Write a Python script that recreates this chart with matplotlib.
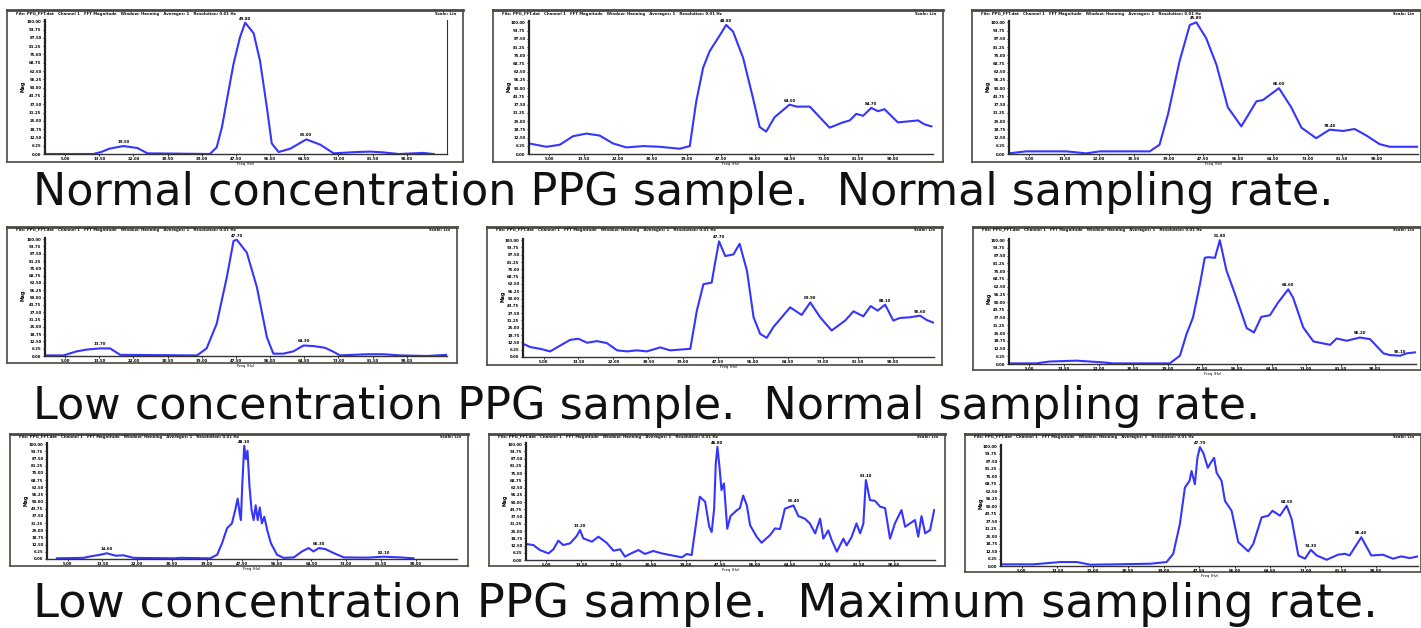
#Nine PPG spectrum panels with captions
import matplotlib.pyplot as plt
from matplotlib.ticker import MultipleLocator, FormatStrFormatter

#Dados: x em % da faixa de frequencia, y em % da magnitude maxima
x1 = [0, 12, 14, 16, 19.5, 23, 25.5, 41, 42.7, 44, 45.2, 46.9, 48.5, 49.8, 51.9, 53.5, 55.2, 56.4, 58.1, 61, 65, 68.5, 71.8, 77.6, 81, 84.2, 88, 94, 96.7]
y1 = [0, 0, 1.5, 4, 6, 4.5, 0.5, 0, 5, 20, 40, 68, 88, 99, 91, 70, 35, 8, 1.5, 4, 11, 7, 0.5, 1.5, 1.8, 1.2, 0, 0.8, 0]

x2 = [0, 4.3, 7.6, 10.9, 14.2, 17.5, 20.8, 24.1, 28.2, 32.3, 37.3, 39.8, 41.4, 43.1, 44.7, 47.2, 48.8, 50.5, 53, 55.4, 57.1, 58.7, 60.8, 64.5, 66.2, 69.5, 74.4, 77.7, 79.4, 81, 82.7, 84.7, 86.4, 88, 91.3, 96.3, 97.9, 99.6]
y2 = [8, 5.5, 7, 13.5, 15.5, 14, 8, 5, 6, 5.5, 4, 6, 40, 65.5, 78, 90, 98, 93, 73, 43, 20.5, 17, 28, 37.5, 36, 36, 20, 24, 25.5, 30.5, 29, 35, 32.5, 34, 24, 25.5, 22.5, 21]

x3 = [0, 4.2, 14, 18.9, 22.2, 34.4, 36.8, 38.9, 41.7, 44.2, 45.8, 48.2, 50.7, 53.5, 56.8, 60.5, 62.1, 66, 69, 71.5, 75.1, 78.4, 81.7, 84.5, 87.4, 90.6, 93.1, 100]
y3 = [0.5, 2, 2, 0.5, 2, 2, 7, 30.5, 70.5, 98, 100, 88, 68, 35.5, 21, 40, 41, 50, 35.5, 20, 12, 18.5, 17.5, 19, 14, 7.5, 5.5, 5.5]

x4 = [0, 4.6, 7.9, 10.4, 13.7, 16.2, 18.7, 37.8, 40.2, 42.7, 45.2, 46.9, 47.7, 50.2, 52.7, 55.2, 56.8, 59.3, 61.8, 64.3, 66.8, 69.7, 71.8, 73.4, 80.1, 84.2, 88.4, 95, 100]
y4 = [0.5, 0.5, 4, 5.5, 6.5, 6.5, 1, 0.5, 6.5, 27.5, 67, 98.5, 99.5, 88.5, 59, 16, 2, 2, 4, 9, 8.5, 7, 3.5, 0.5, 1.5, 1.5, 0.5, 0, 1]

x5 = [0, 1.8, 4.2, 6.6, 9.1, 11.5, 13.5, 15.6, 18, 20.4, 22.9, 25.3, 27.7, 30.1, 33.4, 35.8, 40.7, 42.3, 43.9, 45.9, 46.8, 47.7, 49.2, 51.2, 52.7, 54.5, 56.1, 57.7, 59.3, 60.9, 65, 67.8, 69.9, 72.3, 75.1, 78.4, 80.4, 82.8, 84.6, 86.3, 88.1, 90.1, 91.7, 94.2, 96.6, 98.2, 99.8]
y5 = [11.3, 8.5, 7, 4.8, 9.9, 14.7, 15.6, 12.2, 13.6, 11.9, 5.7, 4.8, 5.7, 4.8, 8.2, 5.7, 7, 39.7, 62.3, 63.7, 82, 99, 86.4, 87.8, 96.9, 73.7, 34, 19.8, 16.4, 25.5, 42.5, 36, 46.7, 34, 22.7, 31.2, 39.1, 34.8, 43.6, 39.7, 44.8, 31.2, 33.4, 34, 35.4, 31.7, 29.5]

x6 = [0, 6.7, 10, 16.6, 23.1, 25.6, 39.5, 42, 43.6, 45.2, 46.9, 48.1, 48.9, 50.6, 51.8, 53.4, 55.5, 58.4, 60.2, 62, 64.1, 66.1, 68.6, 69.8, 72.3, 74.8, 78.9, 80.5, 83, 86.2, 88.7, 92, 93.6, 96.1, 97.7, 99.8]
y6 = [0.5, 0.5, 2, 2.7, 1.3, 0.5, 0.5, 6.7, 24, 37.5, 64.3, 85.8, 86.3, 85.8, 100, 75.9, 56.8, 29, 25.5, 38.1, 39.4, 49.6, 60.3, 53.6, 29.5, 18.2, 15.5, 20.6, 18.8, 21.4, 20.1, 8.6, 7.2, 6.7, 8.6, 9.4]

x7 = [2.4, 8.9, 10.6, 13, 14.6, 16.7, 18.7, 21.1, 30.9, 32.5, 39.8, 41.5, 42.7, 43.9, 45.1, 45.9, 46.5, 47, 47.3, 47.6, 48.1, 48.5, 48.9, 49.4, 49.9, 50.4, 50.9, 51.4, 51.9, 52.4, 53, 53.7, 54.6, 56.1, 57.7, 60.2, 62.2, 63.8, 65, 66.3, 67.9, 69.9, 72.4, 78, 82.1, 86.2, 89.4]
y7 = [0.6, 1, 2.3, 3.7, 5, 2.9, 3.2, 1, 0.6, 1, 0.6, 3.7, 13.8, 26.7, 31, 42.5, 52.6, 39.7, 33.9, 62.6, 98.6, 87, 94.3, 62.6, 42.5, 33.9, 46.8, 33.9, 44.8, 31, 36.8, 25.3, 13.8, 3.7, 1, 1.4, 6.6, 9.5, 6.6, 9.5, 8.6, 5.2, 1.4, 1.2, 2, 1.4, 0.6]

x8 = [0, 1.8, 3.4, 5.5, 6.7, 7.9, 9.1, 10.8, 12.4, 13.2, 14, 16.1, 17.7, 19.7, 21.4, 23, 24.2, 25.4, 27.5, 29.1, 31.1, 33.2, 35.2, 38.1, 39.3, 40.5, 41.7, 42.5, 43.8, 44.8, 45.4, 46, 46.4, 46.8, 47.3, 47.8, 48.4, 49.2, 50, 51.5, 52.3, 53.1, 54, 54.8, 56.4, 57.6, 59.7, 60.9, 62.1, 63.3, 65.4, 66.6, 68.2, 69.4, 70.7, 71.9, 72.7, 73.9, 74.7, 76, 77.6, 78.4, 79.6, 80.8, 81.7, 82.5, 82.6, 83.1, 84.1, 85.3, 86.6, 87.8, 89, 90.2, 91.8, 92.7, 93.9, 95.1, 95.9, 96.7, 97.6, 98.8, 99.8]
y8 = [13.8, 12.9, 8.6, 5.7, 9.2, 16.7, 12.9, 14.4, 20.7, 25.9, 18.7, 15.8, 20.1, 14.9, 8, 9.2, 2.9, 5.2, 8.6, 5.2, 7.8, 5.7, 4.3, 2.3, 5.2, 4.3, 34.5, 54.6, 50.3, 28.7, 24.1, 44.3, 83.3, 97.7, 80.5, 60.3, 66.1, 27, 37.9, 42.8, 44.8, 55.7, 47.1, 29.9, 20.1, 14.9, 21.6, 27.3, 26.7, 44.3, 47.1, 37.9, 35.6, 31.6, 23, 35.6, 18.4, 25.6, 17.5, 7.2, 18.4, 12.6, 19.8, 31.6, 23, 31.6, 38.8, 69, 51.7, 51.1, 46, 44.8, 18.4, 31.6, 43.1, 28.7, 31.6, 34.5, 20.1, 37.9, 23, 25.9, 43.1]

x9 = [0, 7.8, 14.2, 18.2, 21.4, 27.8, 35.8, 39.7, 41.3, 42.9, 44.1, 45.2, 45.7, 46.5, 47.1, 47.7, 48.5, 49.6, 50.3, 51.1, 51.7, 52.9, 53.7, 55.3, 56.9, 59.3, 60.5, 62.5, 64.1, 65.1, 66.9, 68.5, 69.7, 71.3, 72.9, 74.3, 75.7, 78.1, 80.8, 82.4, 83.6, 86.4, 88.8, 91.6, 94, 96, 98, 100]
y9 = [1.4, 1.4, 3.3, 3.3, 1.1, 1.4, 1.9, 3.3, 10.2, 35.1, 65.5, 71, 79.3, 68.2, 90.3, 99.2, 94.5, 82, 86.2, 90.3, 77.9, 71, 54.4, 46.1, 19.9, 12.2, 18.5, 40.6, 42, 46.1, 42, 50.3, 39.2, 8.8, 6.1, 13.5, 8.8, 5.2, 9.4, 10.2, 8.8, 24, 8.8, 9.4, 6.1, 8, 6.6, 8]

series = [(x1, y1), (x2, y2), (x3, y3), (x4, y4), (x5, y5), (x6, y6), (x7, y7), (x8, y8), (x9, y9)]

#picos marcados em cada painel (x em %)
peaks = [[19.5, 49.8, 65], [48.8, 64.5, 84.7], [45.8, 66, 78.4],
         [13.7, 47.7, 64.3], [47.7, 69.9, 88.1, 96.6], [51.8, 68.6, 86.2, 96.1],
         [14.6, 48.1, 66.3, 82.1], [13.2, 46.8, 65.4, 83.1], [47.7, 68.5, 74.3, 86.4]]

#marcas do eixo x (% da faixa)
xtick_pos = [5, 13.5, 22, 30.5, 39, 47.5, 56, 64.5, 73, 81.5, 90]

captions = ['Normal concentration PPG sample.  Normal sampling rate.',
            'Low concentration PPG sample.  Normal sampling rate.',
            'Low concentration PPG sample.  Maximum sampling rate.']

header_left = 'File: PPG_FFT.dat   Channel 1   FFT Magnitude   Window: Hanning   Averages: 1   Resolution: 0.01 Hz'
header_right = 'Scale: Lin'

W, H = 1421, 628
#geometria em pixels: moldura externa e area do grafico
frames = [(7, 10, 463, 162), (493, 10, 943, 162), (972, 10, 1421, 162),
          (7, 227, 457, 363), (487, 227, 942, 365), (973, 227, 1421, 370),
          (10, 434, 468, 566), (489, 434, 945, 566), (965, 434, 1421, 572)]
plots = [(45, 20, 447, 154), (529, 21, 933, 154), (1009, 21, 1418, 154),
         (45, 238, 447, 356), (523, 239, 934, 357), (1009, 239, 1416, 364),
         (47, 443, 457, 559), (526, 443, 935, 560), (1001, 445, 1418, 566)]
caption_base = [205, 419, 617]
caption_size = [32, 32, 33.5]


def box(x0, y0, x1, y1):
    return [x0 / W, 1 - y1 / H, (x1 - x0) / W, (y1 - y0) / H]


fig = plt.figure(figsize=(14.21, 6.28), dpi=100)

for i in range(9):
    fr = fig.add_axes(box(*frames[i]))
    fr.set_xticks([])
    fr.set_yticks([])
    for s in fr.spines.values():
        s.set_color('#4a4a40')
        s.set_linewidth(1.2)
    fr.spines['top'].set_linewidth(2.0)
    fr.text(0.02, 0.99, header_left, transform=fr.transAxes, fontsize=2.8,
            weight='bold', va='top', ha='left', color='#111111')
    fr.text(0.985, 0.99, header_right, transform=fr.transAxes, fontsize=2.8,
            weight='bold', va='top', ha='right', color='#111111')
    fr.text(0.035, 0.5, 'Mag', transform=fr.transAxes, fontsize=3.4,
            weight='bold', rotation=90, va='center', ha='center')

    ax = fig.add_axes(box(*plots[i]))
    ax.patch.set_alpha(0)
    xs, ys = series[i]
    ax.plot(xs, ys, color='#3535ff', lw=1.5, solid_joinstyle='round')
    ax.set_xlim(0, 100)
    ax.set_ylim(0, 101)
    ax.spines['top'].set_visible(False)
    ax.spines['right'].set_visible(i == 0)
    ax.spines['right'].set_color('#333333')
    ax.spines['left'].set_linewidth(1.6)
    ax.spines['left'].set_color('#222222')
    ax.spines['bottom'].set_linewidth(1.0)
    ax.spines['bottom'].set_color('#333333')
    ax.yaxis.set_major_locator(MultipleLocator(6.25))
    ax.set_xticks(xtick_pos)
    ax.yaxis.set_major_formatter(FormatStrFormatter('%.2f'))
    ax.xaxis.set_major_formatter(FormatStrFormatter('%.2f'))
    ax.tick_params(labelsize=2.8, length=1.5, width=0.6, pad=1)
    for t in ax.get_xticklabels() + ax.get_yticklabels():
        t.set_fontweight('bold')
    ax.set_xlabel('Freq (Hz)', fontsize=2.8, labelpad=0.5)

    for p in peaks[i]:
        k = min(range(len(xs)), key=lambda j: abs(xs[j] - p))
        ax.annotate('%.2f' % xs[k], (xs[k], ys[k]), xytext=(0, 1.5),
                    textcoords='offset points', fontsize=2.8, weight='bold',
                    ha='center', va='bottom', annotation_clip=False)

for c, yb, fs in zip(captions, caption_base, caption_size):
    fig.text(33 / W, 1 - yb / H, c, fontsize=fs, family='DejaVu Sans',
             va='baseline', ha='left', color='#111111')

fig.savefig('out.png', dpi=100)
